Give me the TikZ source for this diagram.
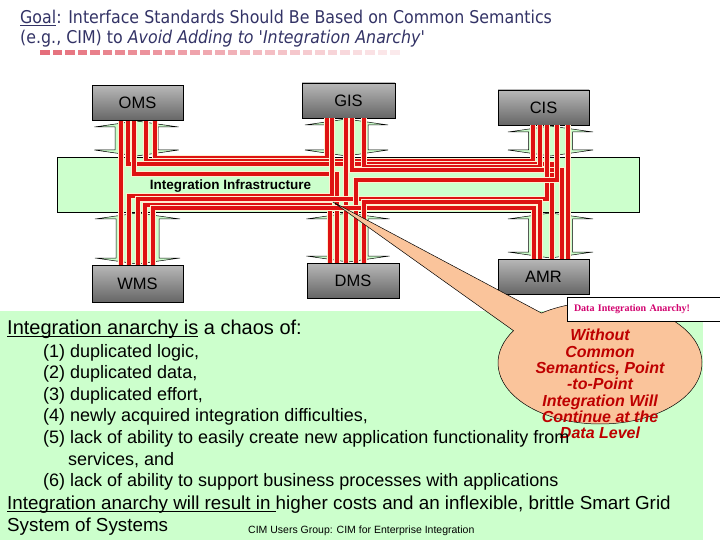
\documentclass[tikz,border=0pt]{standalone}
\usepackage{fontspec}
\setmainfont{Liberation Sans}
\newfontfamily\titlefont[FakeStretch=0.9]{DejaVu Sans}
\newfontfamily\tagfont{Liberation Serif}
\usepackage{xcolor, tikz}
\usetikzlibrary{arrows.meta}

\definecolor{lgreen}{RGB}{204,255,204}
\definecolor{peach}{RGB}{250,196,155}
\definecolor{titleblue}{RGB}{51,51,102}
\definecolor{wirered}{RGB}{222,18,18}
\definecolor{halo}{RGB}{255,238,208}
\definecolor{bubred}{RGB}{190,0,0}
\definecolor{tagpink}{RGB}{210,0,110}
\definecolor{barpink}{RGB}{225,85,100}
\newcommand\undl[1]{\setbox0\hbox{#1}\rlap{\rule[-2.2pt]{\wd0}{1.1pt}}\box0\relax}

\tikzset{
	sysbox/.style={draw=black,line width=0.6,top color=black!28,bottom color=black!60,minimum width=91,minimum height=35,inner sep=0,font=\fontsize{16.5}{18}\selectfont},
	wire/.style={draw=wirered,line width=3.2,preaction={draw=halo,line width=6}},
	udarrow/.style={draw=black,line width=0.5,fill=lgreen},
	lead/.style={anchor=base west,inner sep=0,font=\fontsize{18.8}{22}\selectfont},
	item/.style={anchor=base west,inner sep=0,font=\fontsize{18}{20}\selectfont},
	goalline/.style={anchor=base west,inner sep=0,text=titleblue,font=\titlefont\fontsize{17.6}{20}\selectfont}
}

\begin{document}
\begin{tikzpicture}[x=1pt,y=-1pt]
	\useasboundingbox (0,0) rectangle (720,540);
	\node[goalline] (goal) at (20,24) {\undl{Goal}: Interface Standards Should Be Based on Common Semantics};
	\node[goalline] (goal2) at (20,44) {(e.g., CIM) to \textit{Avoid Adding to 'Integration Anarchy'}};
	\foreach \i in {0,...,28}{
		\pgfmathsetmacro\fade{85-2.6*\i}
		\fill[barpink!\fade] (40+12.5*\i,50) rectangle ++(9.5,5);
	}
	
	\node[draw=black,line width=0.6,fill=lgreen,minimum width=582,minimum height=55,inner sep=0] (infra) at (348,184.5) {};
	\node[inner sep=0,font=\bfseries\fontsize{13.5}{15}\selectfont] (infralabel) at (230.5,186) {Integration Infrastructure};
	\foreach \cx/\t/\b/\hw/\sw in {136.5/121/156/42/21.5,137.5/213/264/42.5/21.5,346.5/119/156/41.5/21.5,348/213/262/41.5/20,550.5/126/156/42.5/22,550.5/213/258/42.5/22}
		\draw[udarrow] (\cx,\t) -- (\cx+\hw,\t+6) -- (\cx+\sw,\t+6) -- (\cx+\sw,\b-6) -- (\cx+\hw,\b-6) -- (\cx,\b)
			-- (\cx-\hw,\b-6) -- (\cx-\sw,\b-6) -- (\cx-\sw,\t+6) -- (\cx-\hw,\t+6) -- cycle;
	
	\node[sysbox] (oms) at (137.5,103) {OMS};
	\node[sysbox,minimum width=93] (gis) at (348.5,100.5) {GIS};
	\node[sysbox] (cis) at (543.5,107.5) {CIS};
	\node[sysbox,minimum height=37] (wms) at (137.5,283.5) {WMS};
	\node[sysbox,minimum width=92] (dms) at (353,280.5) {DMS};
	\node[sysbox] (amr) at (543.5,276.5) {AMR};
	
	\foreach \xa/\na/\yh/\xb/\nb in {121/oms.south/200/121/wms.north,155/oms.south/158/327/gis.south,146/oms.south/161/533/cis.south,
		128/oms.south/164/552/amr.north,134/oms.south/174/337/dms.north,346/gis.south/200/346/dms.north,364/gis.south/167/540/cis.south,
		352/gis.south/170/562/amr.north,332/gis.south/196/129/wms.north,568/cis.south/200/568/amr.north,547/cis.south/199/138/wms.north,
		557/cis.south/180/356/dms.north,145/wms.north/205/330/dms.north,153/wms.north/208/534/amr.north,364/dms.north/202/540/amr.north}
		\draw[wire] (\xa,0 |- \na) |- (\xb,\yh) -- (\xb,0 |- \nb);
	
	\fill[lgreen] (0,311) rectangle (703,540);
	\coordinate (tip) at (333,202);
	\draw[fill=peach,line width=0.5] (600,363) ++(212:102 and 61) coordinate (bA) -- (tip) -- ([shift={(235:102 and 61)}]600,363)
		arc[start angle=235,end angle=572,x radius=102,y radius=61] -- cycle;
	\node[draw=black,line width=0.6,fill=white,minimum height=24,text width=141,inner xsep=7,inner ysep=0,align=left,text=tagpink,font=\tagfont\bfseries\fontsize{10}{12}\selectfont] (tag) at (644.5,309) {Data Integration Anarchy!};
	\node[align=center,inner sep=0,text=bubred,font=\bfseries\itshape\fontsize{16}{16.3}\selectfont] (bubtext) at (600,384) {Without\\Common\\Semantics, Point\\-to-Point\\Integration Will\\Continue at the\\Data Level};
	
	\node[lead,font=\fontsize{20}{22}\selectfont] (chaos) at (7,334.5) {\undl{Integration anarchy is} a chaos of:};
	\foreach \txt [count=\i] in {{(1) duplicated logic,},{(2) duplicated data,},{(3) duplicated effort,},{(4) newly acquired integration difficulties,},{(5) lack of ability to easily create new application functionality from}}
		\node[item] (item\i) at (43,335.5+21.5*\i) {\txt};
	\node[item] (item5b) at (68,465) {services, and};
	\node[item] (item6) at (43,486.5) {(6) lack of ability to support business processes with applications};
	\node[lead] (result) at (7,509.5) {\undl{Integration anarchy will result in }higher costs and an inflexible, brittle Smart Grid};
	\node[lead] (result2) at (7,531.5) {System of Systems};
	\node[anchor=base west,inner sep=0,font=\fontsize{10.5}{12}\selectfont] (footer) at (248,533.5) {CIM Users Group: CIM for Enterprise Integration};
\end{tikzpicture}
\end{document}
